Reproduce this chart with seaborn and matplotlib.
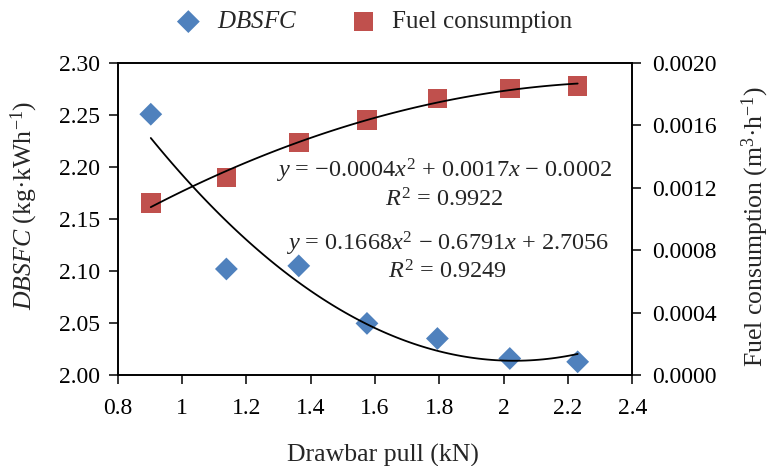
import matplotlib
matplotlib.use("Agg")
import matplotlib.pyplot as plt
import seaborn as sns
import numpy as np
import pandas as pd

# Data
drawbar_pull = [0.903, 1.138, 1.363, 1.575, 1.794, 2.019, 2.230]
dbsfc = [2.2507, 2.102, 2.105, 2.0497, 2.0352, 2.016, 2.0128]
fuel = [0.001103, 0.001266, 0.00149, 0.001633, 0.001772, 0.001836, 0.001851]

eq_fuel = "$y$ = −0.0004$x^2$ + 0.0017$x$ − 0.0002"
r2_fuel = "$R^2$ = 0.9922"
eq_dbsfc = "$y$ = 0.1668$x^2$ − 0.6791$x$ + 2.7056"
r2_dbsfc = "$R^2$ = 0.9249"

df = pd.DataFrame({"x": drawbar_pull, "dbsfc": dbsfc, "fuel": fuel})

sns.set_theme(style="ticks")
FONT = "Liberation Serif"
plt.rcParams["font.family"] = [FONT, "DejaVu Serif"]
plt.rcParams["mathtext.fontset"] = "custom"
plt.rcParams["mathtext.rm"] = FONT
plt.rcParams["mathtext.it"] = FONT + ":italic"
plt.rcParams["mathtext.bf"] = FONT + ":bold"

FS_TICK = 17
FS_EQ = 17.5
FS_LAB = 18.5
FS_LEG = 18
BLUE = "#4F81BD"
RED = "#C0504D"

fig = plt.figure(figsize=(7.74, 4.66), dpi=100)
ax = fig.add_axes([0.152, 0.195, 0.665, 0.670])
ax2 = ax.twinx()

sns.scatterplot(data=df, x="x", y="dbsfc", ax=ax, marker="D", s=135, color=BLUE,
                edgecolor="none", label="$DBSFC$", zorder=2)
sns.regplot(data=df, x="x", y="dbsfc", ax=ax, order=2, ci=None, scatter=False,
            truncate=True, color="black", line_kws={"lw": 1.3, "zorder": 3})

sns.scatterplot(data=df, x="x", y="fuel", ax=ax2, marker="s", s=200, color=RED,
                edgecolor="none", label="Fuel consumption", zorder=2)
sns.regplot(data=df, x="x", y="fuel", ax=ax2, order=2, ci=None, scatter=False,
            truncate=True, color="black", line_kws={"lw": 1.3, "zorder": 3})

ax.set_xlim(0.8, 2.4)
ax.set_ylim(2.0, 2.3)
ax2.set_ylim(0.0, 0.002)
ax.set_xticks(np.arange(0.8, 2.41, 0.2))
ax.set_xticklabels(["0.8", "1", "1.2", "1.4", "1.6", "1.8", "2", "2.2", "2.4"])
ax.set_yticks(np.arange(2.0, 2.301, 0.05))
ax.set_yticklabels([f"{v:.2f}" for v in np.arange(2.0, 2.301, 0.05)])
ax2.set_yticks(np.arange(0, 0.00201, 0.0004))
ax2.set_yticklabels([f"{v:.4f}" for v in np.arange(0, 0.00201, 0.0004)])

for a in (ax, ax2):
    a.tick_params(axis="both", direction="out", length=6.5, width=1.1,
                  labelsize=FS_TICK, pad=6, color="black", labelcolor="black")
    for sp in a.spines.values():
        sp.set_linewidth(1.2)
        sp.set_color("black")
ax.tick_params(axis="x", pad=10)
ax2.tick_params(axis="y", pad=8)

ax.set_xlabel("Drawbar pull (kN)", fontsize=FS_LAB)
ax.xaxis.set_label_coords(0.515, -0.258)
ax.xaxis.label.set_va("center")
ax.set_ylabel(r"$DBSFC$ (kg·kWh$^{-1}$)", fontsize=FS_LAB)
ax.yaxis.label.set_va("center")
ax.yaxis.set_label_coords(-0.181, 0.545)
ax2.set_ylabel(r"Fuel consumption (m$^3$·h$^{-1}$)", fontsize=FS_LAB)
ax2.yaxis.label.set_va("center")
ax2.yaxis.set_label_coords(1.238, 0.477)

ax.get_legend().remove()
ax2.get_legend().remove()
h1, l1 = ax.get_legend_handles_labels()
h2, l2 = ax2.get_legend_handles_labels()
fig.legend(h1 + h2, l1 + l2, loc="center", bbox_to_anchor=(0.481, 0.953), ncol=2,
           frameon=False, fontsize=FS_LEG, handletextpad=0.5, columnspacing=2.0,
           handlelength=1.3)

def px(xp, yp):
    return xp / 774, 1 - yp / 466

fig.text(*px(444, 171), eq_fuel, fontsize=FS_EQ, ha="center", va="center")
fig.text(*px(444, 200), r2_fuel, fontsize=FS_EQ, ha="center", va="center")
fig.text(*px(447, 244), eq_dbsfc, fontsize=FS_EQ, ha="center", va="center")
fig.text(*px(447, 272), r2_dbsfc, fontsize=FS_EQ, ha="center", va="center")

fig.savefig("out.png", dpi=100)
